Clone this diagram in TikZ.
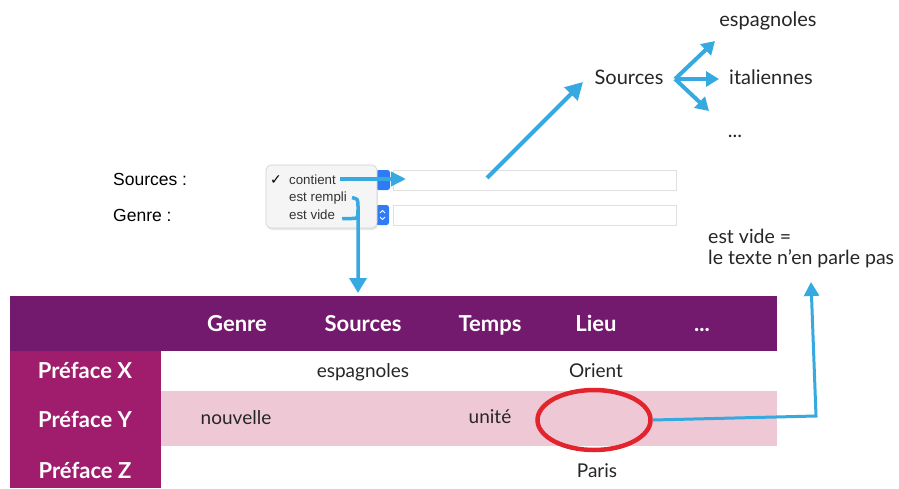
\documentclass[tikz,border=0pt]{standalone}
\usepackage{fontspec}
\setmainfont{Lato}
\newfontfamily\uifont{Liberation Sans}
\newfontfamily\symfont{DejaVu Sans}
\usetikzlibrary{arrows.meta,shapes.geometric,shadows}

\definecolor{hdrpurple}{HTML}{741A6E}
\definecolor{lblmagenta}{HTML}{A01C6C}
\definecolor{rowpink}{HTML}{EFC8D6}
\definecolor{arrowblue}{HTML}{36A9E0}
\definecolor{circred}{HTML}{E2252D}
\definecolor{uiblue}{HTML}{2F7BF5}

\begin{document}
\begin{tikzpicture}[x=1pt,y=-1pt,
    hdr/.style={text=white,font=\fontsize{22}{25}\selectfont\bfseries,anchor=base},
    cell/.style={font=\fontsize{19}{22}\selectfont,anchor=base,text=black!85},
    note/.style={font=\fontsize{20}{23}\selectfont,anchor=base,text=black!85},
    uilabel/.style={font=\uifont\fontsize{17.5}{20}\selectfont,anchor=base west,inner sep=0pt},
    menuitem/.style={font=\uifont\fontsize{13.3}{15}\selectfont,anchor=base west,inner sep=0pt,text=black!80},
    field/.style={draw=black!12,fill=white,line width=0.8pt},
    stepper/.style={fill=uiblue,rounded corners=2.5pt},
    bluearrow/.style={draw=arrowblue,line width=4pt,-{Triangle[length=15pt,width=16pt]}},
  ]
    \useasboundingbox (0,0) rectangle (899,488);
    \fill[white] (0,0) rectangle (899,488);

    % Table
    \fill[hdrpurple] (10,296) rectangle (777,351);
    \fill[lblmagenta] (10,351) rectangle (161,488);
    \fill[rowpink] (161,391) rectangle (777,446);
    \node[hdr] (hGenre) at (237,331) {Genre};
    \node[hdr] (hSources) at (363,331) {Sources};
    \node[hdr] (hTemps) at (490,331) {Temps};
    \node[hdr] (hLieu) at (596,331) {Lieu};
    \node[hdr] (hDots) at (702,331) {...};
    \node[hdr] (pX) at (85,378) {Préface X};
    \node[hdr] (pY) at (85,427) {Préface Y};
    \node[hdr] (pZ) at (85,478) {Préface Z};
    \node[cell] (cEsp) at (363,377) {espagnoles};
    \node[cell] (cOrient) at (596,377) {Orient};
    \node[cell] (cNouv) at (236,424) {nouvelle};
    \node[cell] (cUnite) at (490,423) {unité};
    \node[cell] (cParis) at (597,477) {Paris};

    % Empty cell
    \node[draw=circred,line width=4.5pt,ellipse,minimum width=113pt,
          minimum height=60pt,inner sep=0pt] (circ) at (594,420) {};

    % Note
    \node[note,anchor=base west,inner sep=0pt,font=\fontsize{19.5}{22}\selectfont] (vide1) at (708,243) {est vide =};
    \node[note,anchor=base west,inner sep=0pt,font=\fontsize{19.5}{22}\selectfont] (vide2) at (708,264) {le texte n’en parle pas};
    \coordinate (bend) at (816,416);
    \coordinate (noteTip) at (811,282);
    \draw[arrowblue,line width=3pt,-{Triangle[length=14pt,width=15pt]}]
        (circ.east) -- (bend) -- (noteTip);

    % Sources tree
    \node[note] (srcTop) at (629,84) {Sources};
    \node[note] (espTop) at (768,26) {espagnoles};
    \node[note] (itaTop) at (771,84) {italiennes};
    \node[note] (dotsTop) at (735,137) {...};
    \coordinate (fork) at (675,79);
    \coordinate (tEsp) at (715,41);
    \coordinate (tIta) at (719,79);
    \coordinate (tDots) at (709,111);
    \foreach \t in {tEsp,tIta,tDots}
        \draw[bluearrow,-{Triangle[length=13pt,width=15pt]}] (fork) -- (\t);

    % Search form
    \node[uilabel] (lSources) at (113,185) {Sources :};
    \node[uilabel] (lGenre) at (113,221) {Genre :};
    \draw[field] (393,170) rectangle (676,190);
    \draw[field] (393,205) rectangle (676,225);
    \fill[stepper] (376,170) rectangle (390,190);
    \fill[stepper] (376,205) rectangle (389,225);
    \draw[white,line width=0.9pt] (380,213) -- (382.5,210.5) -- (385,213)
                                  (380,217) -- (382.5,219.5) -- (385,217);

    % Popup menu
    \filldraw[draw=black!18,fill=black!4,rounded corners=5pt,line width=0.6pt,
              drop shadow={opacity=0.18,shadow xshift=1pt,shadow yshift=-2pt}]
        (266,165) rectangle (377,228);
    \node[menuitem,font=\symfont\bfseries\fontsize{14}{16}\selectfont,text=black] (mCheck) at (270,184.5) {✓};
    \node[menuitem] (mContient) at (289,184) {contient};
    \node[menuitem] (mRempli) at (289,201) {est rempli};
    \node[menuitem] (mVide) at (289,219.5) {est vide};

    % Arrows from menu
    \coordinate (fieldIn) at (406,179);
    \draw[bluearrow,line width=3.5pt,-{Triangle[length=15pt,width=14pt]},shorten <=4pt]
        (mContient.east |- fieldIn) -- (fieldIn);
    \coordinate (fieldMid) at (487,178);
    \coordinate (srcTip) at (583,82);
    \draw[bluearrow,-{Triangle[length=17pt,width=18pt]}] (fieldMid) -- (srcTip);
    \coordinate (tableTop) at (358,293);
    \draw[bluearrow,line width=3.5pt,-{Triangle[length=15pt,width=17pt]}]
        ([xshift=5pt]mRempli.east) .. controls (358,199) .. (358,207) -- (tableTop);
    \draw[arrowblue,line width=3.5pt]
        ([xshift=7pt,yshift=-4pt]mVide.east) -- (351,218.5) .. controls (358,218.5) .. (358,210);
\end{tikzpicture}
\end{document}
